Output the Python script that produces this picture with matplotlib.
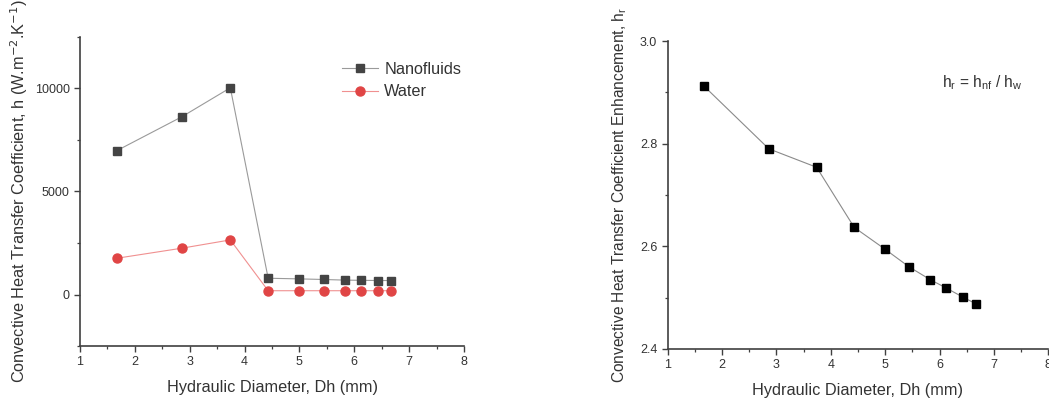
import matplotlib
matplotlib.use("Agg")
import matplotlib.pyplot as plt
from matplotlib.ticker import MultipleLocator

plt.rcParams["font.family"] = ["Liberation Sans", "DejaVu Sans"]

# hydraulic diameter (mm)
dh = [1.67, 2.86, 3.74, 4.43, 4.99, 5.44, 5.83, 6.12, 6.43, 6.67]
# convective heat transfer coefficient (W/m2K)
h_nano = [6980, 8630, 10030, 790, 760, 730, 700, 690, 680, 680]
h_water = [1760, 2250, 2650, 185, 185, 185, 185, 185, 185, 185]
# enhancement ratio h_nf / h_w
h_ratio = [2.912, 2.790, 2.754, 2.637, 2.595, 2.560, 2.535, 2.519, 2.501, 2.488]

SPINE = "#404040"
FS_TICK = 9
FS_LAB = 11.7


def style(ax):
    for s in ("top", "right"):
        ax.spines[s].set_visible(False)
    for s in ("left", "bottom"):
        ax.spines[s].set_color(SPINE)
        ax.spines[s].set_linewidth(1.2)
    ax.tick_params(which="major", direction="out", length=4, width=1.0,
                   color=SPINE, labelsize=FS_TICK, labelcolor="#333333")
    ax.tick_params(which="minor", direction="out", length=2.5, width=0.9, color=SPINE)
    ax.xaxis.set_major_locator(MultipleLocator(1))
    ax.xaxis.set_minor_locator(MultipleLocator(0.5))
    ax.set_xlim(1, 8)


fig = plt.figure(figsize=(10.49, 4.01), dpi=100)

# left: h vs Dh
ax1 = fig.add_axes([0.0763, 0.137, 0.366, 0.771])
ax1.plot(dh, h_nano, "s-", color="#9a9a9a", lw=0.8, ms=6,
         mfc="#444444", mec="#444444", label="Nanofluids")
ax1.plot(dh, h_water, "o-", color="#f09090", lw=0.8, ms=6.5,
         mfc="#e04545", mec="#e04545", label="Water")
style(ax1)
ax1.set_ylim(-2500, 12500)
ax1.yaxis.set_major_locator(MultipleLocator(5000))
ax1.yaxis.set_minor_locator(MultipleLocator(2500))
ax1.set_xlabel("Hydraulic Diameter, Dh (mm)", fontsize=FS_LAB, color="#333333", labelpad=8)
ax1.set_ylabel(r"Convective Heat Transfer Coefficient, h (W.m$^{-2}$.K$^{-1}$)",
               fontsize=FS_LAB, color="#333333", labelpad=3)
leg = ax1.legend(loc="upper right", bbox_to_anchor=(1.01, 0.94), frameon=False,
                 fontsize=FS_LAB, handlelength=2.2, handletextpad=0.4,
                 labelspacing=0.45, borderaxespad=0.0)
for t in leg.get_texts():
    t.set_color("#333333")

# right: enhancement ratio
ax2 = fig.add_axes([0.6365, 0.1297, 0.3628, 0.768])
ax2.plot(dh, h_ratio, "s-", color="#8a8a8a", lw=0.8, ms=6,
         mfc="black", mec="black")
style(ax2)
ax2.set_ylim(2.4, 3.0)
ax2.yaxis.set_major_locator(MultipleLocator(0.2))
ax2.yaxis.set_minor_locator(MultipleLocator(0.1))
ax2.yaxis.set_major_formatter(matplotlib.ticker.FormatStrFormatter("%.1f"))
ax2.set_xlabel("Hydraulic Diameter, Dh (mm)", fontsize=FS_LAB, color="#333333", labelpad=8)
ax2.set_ylabel(r"Convective Heat Transfer Coefficient Enhancement, h$_\mathregular{r}$",
               fontsize=11.2, color="#333333", labelpad=8)
ax2.text(0.72, 0.85, r"h$_\mathregular{r}$ = h$_\mathregular{nf}$ / h$_\mathregular{w}$",
         transform=ax2.transAxes, fontsize=FS_LAB - 0.5, color="#333333")

fig.savefig("out.png", dpi=100)
